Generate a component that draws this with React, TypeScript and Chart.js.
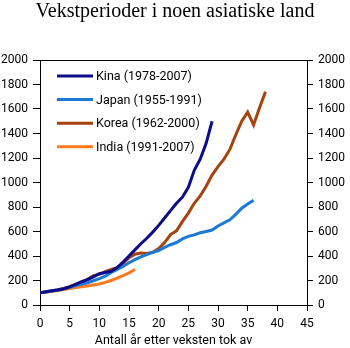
import React, { useEffect, useRef } from "react";
import { Chart, registerables } from "chart.js";

Chart.register(...registerables);

const TITLE = "Vekstperioder i noen asiatiske land";
const X_TITLE = "Antall år etter veksten tok av";
const seriesLabels = ["Kina (1978-2007)", "Japan (1955-1991)", "Korea (1962-2000)", "India (1991-2007)"];
const seriesColors = ["#0c0c8a", "#1b7ad6", "#a6420e", "#ff7a1c"];

const kina = [100, 108, 116, 122, 133, 148, 168, 190, 207, 230, 255, 265, 275, 305, 350, 400, 450, 500, 545, 595, 650, 710, 770, 830, 880, 960, 1100, 1190, 1320, 1500];
const japan = [100, 108, 116, 122, 132, 145, 158, 170, 182, 198, 215, 235, 265, 290, 315, 345, 370, 392, 412, 430, 445, 470, 492, 510, 540, 560, 572, 590, 600, 612, 645, 670, 695, 740, 790, 825, 855];
const korea = [100, 105, 115, 125, 135, 150, 168, 185, 210, 240, 250, 272, 290, 305, 340, 385, 415, 425, 420, 430, 460, 510, 575, 605, 680, 750, 830, 890, 970, 1060, 1130, 1190, 1270, 1390, 1500, 1575, 1470, 1610, 1740];
const india = [100, 106, 112, 119, 127, 135, 142, 148, 155, 163, 172, 185, 200, 220, 240, 262, 290];

const xTicks = [0, 5, 10, 15, 20, 25, 30, 35, 40, 45];
const yTicks = [0, 200, 400, 600, 800, 1000, 1200, 1400, 1600, 1800, 2000];

const seriesValues = [kina, japan, korea, india];

const legendPlugin = {
  id: "insideLegend",
  afterDatasetsDraw(chart: any) {
    const { ctx, chartArea } = chart;
    ctx.save();
    // top border
    ctx.strokeStyle = "#000";
    ctx.lineWidth = 1;
    ctx.beginPath();
    ctx.moveTo(chartArea.left, chartArea.top + 0.5);
    ctx.lineTo(chartArea.right, chartArea.top + 0.5);
    ctx.stroke();
    chart.data.datasets.forEach((ds: any, i: number) => {
      const y = chartArea.top + 16 + i * 23.6;
      ctx.strokeStyle = ds.borderColor;
      ctx.lineWidth = 3;
      ctx.beginPath();
      ctx.moveTo(chartArea.left + 17, y);
      ctx.lineTo(chartArea.left + 53, y);
      ctx.stroke();
      ctx.fillStyle = "#000";
      ctx.font = "12.5px Roboto";
      ctx.textBaseline = "middle";
      ctx.textAlign = "left";
      ctx.fillText(ds.label, chartArea.left + 56, y + 1);
    });
    ctx.restore();
  },
};

export default function App() {
  const ref = useRef<HTMLCanvasElement>(null);
  useEffect(() => {
    if (!ref.current) return;
    const tickFont = { family: "Roboto", size: 12 };
    const fmt = (v: any) => String(v);
    const chart = new Chart(ref.current, {
      type: "line",
      data: {
        datasets: seriesValues.map((vals, i) => ({
          label: seriesLabels[i],
          data: vals.map((v, t) => ({ x: t, y: v })),
          borderColor: seriesColors[i],
          backgroundColor: seriesColors[i],
          borderWidth: 3,
          pointRadius: 0,
          tension: 0,
          fill: false,
        })),
      },
      options: {
        responsive: false,
        animation: false,
        layout: { padding: 0 },
        plugins: {
          legend: { display: false },
          tooltip: { enabled: false },
          title: {
            display: true,
            text: TITLE,
            color: "#000",
            font: { family: "Liberation Serif", size: 20, weight: "normal", lineHeight: 1.2 },
            padding: { top: 0, bottom: 36 },
          },
        },
        scales: {
          x: {
            type: "linear",
            min: 0,
            max: 45,
            afterBuildTicks: (s: any) => { s.ticks = xTicks.map((v) => ({ value: v })); },
            afterFit: (s: any) => { s.height = 43; },
            grid: { display: true, drawOnChartArea: false, color: "#000", tickLength: 6 },
            border: { display: true, color: "#000", width: 1 },
            ticks: { color: "#000", font: tickFont, padding: 6, maxRotation: 0, callback: fmt },
            title: { display: true, text: X_TITLE, color: "#000", font: { family: "Roboto", size: 12.5, lineHeight: 1 }, padding: { top: 0, bottom: 1 } },
          },
          y: {
            type: "linear",
            position: "left",
            min: 0,
            max: 2000,
            afterBuildTicks: (s: any) => { s.ticks = yTicks.map((v) => ({ value: v })); },
            afterFit: (s: any) => { s.width = 40; },
            grid: { display: true, drawOnChartArea: false, color: "#000", tickLength: 7 },
            border: { display: true, color: "#000", width: 1 },
            ticks: { color: "#000", font: tickFont, padding: 5, callback: fmt },
          },
          y2: {
            type: "linear",
            position: "right",
            min: 0,
            max: 2000,
            afterBuildTicks: (s: any) => { s.ticks = yTicks.map((v) => ({ value: v })); },
            afterFit: (s: any) => { s.width = 43; },
            grid: { display: true, drawOnChartArea: false, color: "#000", tickLength: 6 },
            border: { display: true, color: "#000", width: 1 },
            ticks: { color: "#000", font: tickFont, padding: 5, callback: fmt },
          },
        },
      },
      plugins: [legendPlugin],
    } as any);
    return () => chart.destroy();
  }, []);
  return (
    <div style={{ position: "fixed", left: 0, top: 0, width: 350, height: 348, background: "#fff" }}>
      <canvas ref={ref} width={350} height={348} style={{ display: "block" }} />
    </div>
  );
}
